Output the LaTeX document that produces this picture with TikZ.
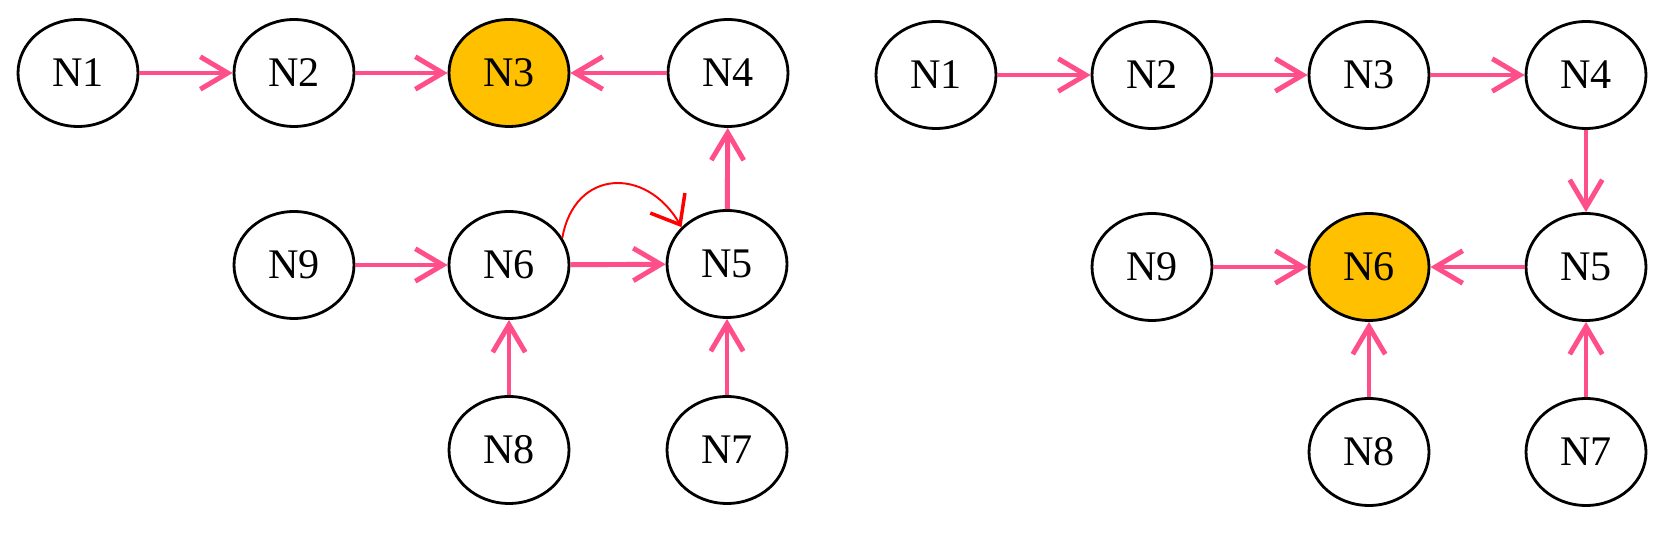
\documentclass[tikz,border=0pt]{standalone}
\usepackage{fontspec}
\setmainfont{Liberation Serif}
\usetikzlibrary{shapes.geometric,arrows.meta}
\definecolor{edgepink}{RGB}{255,79,139}
\definecolor{hitgold}{RGB}{255,192,0}
\begin{document}
\begin{tikzpicture}[x=0.02cm,y=-0.02cm,
    state/.style={ellipse,draw=black,line width=1.6pt,minimum width=2.4cm,minimum height=2.14cm,inner sep=0pt,font=\fontsize{24}{28}\selectfont},
    found/.style={state,fill=hitgold},
    link/.style={edgepink,line width=2.8pt,-{Straight Barb[length=0.55cm,width=0.65cm]}},
    jump/.style={red,line width=1.1pt,-{Straight Barb[length=0.5cm,width=0.8cm,line width=2pt]}}]
    \useasboundingbox (0,0) rectangle (1673,553);
    % left graph
    \node[state] (a1) at (78,73) {N1};
    \node[state] (a2) at (294,73) {N2};
    \node[found] (a3) at (509,73) {N3};
    \node[state] (a4) at (728,73) {N4};
    \node[state] (a9) at (294,265) {N9};
    \node[state] (a6) at (509,265) {N6};
    \node[state] (a5) at (727,264) {N5};
    \node[state] (a8) at (509,450) {N8};
    \node[state] (a7) at (727,450) {N7};
    \draw[link] (a1) -- (a2);
    \draw[link] (a2) -- (a3);
    \draw[link] (a4) -- (a3);
    \draw[link] (a5) -- (a4);
    \draw[link] (a9) -- (a6);
    \draw[link] (a6) -- (a5);
    \draw[link] (a8) -- (a6);
    \draw[link] (a7) -- (a5);
    \draw[jump] (a6.27) to[out=80,in=120,looseness=1.5] (a5.141);
    % right graph
    \node[state] (b1) at (936,75) {N1};
    \node[state] (b2) at (1152,75) {N2};
    \node[state] (b3) at (1369,75) {N3};
    \node[state] (b4) at (1586,75) {N4};
    \node[state] (b9) at (1152,267) {N9};
    \node[found] (b6) at (1369,267) {N6};
    \node[state] (b5) at (1586,267) {N5};
    \node[state] (b8) at (1369,452) {N8};
    \node[state] (b7) at (1586,452) {N7};
    \draw[link] (b1) -- (b2);
    \draw[link] (b2) -- (b3);
    \draw[link] (b3) -- (b4);
    \draw[link] (b4) -- (b5);
    \draw[link] (b9) -- (b6);
    \draw[link] (b5) -- (b6);
    \draw[link] (b8) -- (b6);
    \draw[link] (b7) -- (b5);
\end{tikzpicture}
\end{document}
